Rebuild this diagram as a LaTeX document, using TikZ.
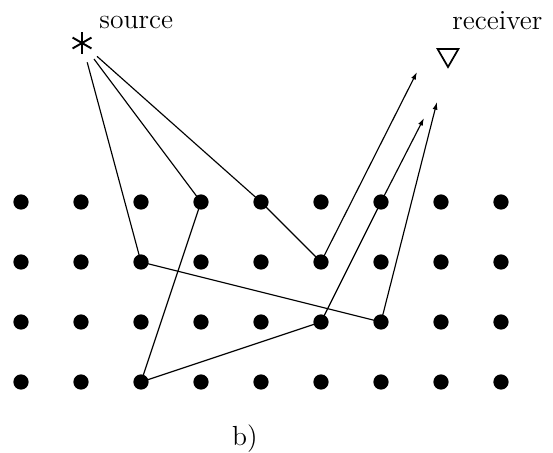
\documentclass[tikz,border=0pt]{standalone}
\usepackage{tikz}
\usetikzlibrary{arrows.meta,positioning,shapes.geometric,calc}

\begin{document}
\begin{tikzpicture}[
  x=1.1cm, y=1.1cm,
  font=\Large,
  dot/.style={circle, fill=black, inner sep=0pt, minimum size=0.28cm},
  srcmark/.style={
    circle, inner sep=0pt, minimum size=0.42cm,
    path picture={
      \foreach \a in {90,30,150}
        \draw[line width=1pt]
          ($(path picture bounding box.center)+(\a:0.2cm)$) --
          ($(path picture bounding box.center)+(\a+180:0.2cm)$);
    }
  },
  rcvmark/.style={
    draw, regular polygon, regular polygon sides=3, shape border rotate=180,
    line width=0.9pt, inner sep=0pt, minimum size=0.44cm
  },
  ray/.style={line width=0.6pt},
  rayout/.style={line width=0.6pt, -{Latex[length=4pt,width=2.6pt]}},
  lbl/.style={inner sep=0pt, anchor=base west}
]
\useasboundingbox (-0.35,-1.183) rectangle (8.867,6.367);

% Grid of scatterers
\foreach \i in {0,...,8}
  \foreach \j in {0,...,3}
    \node[dot] (d\i\j) at (\i,\j) {};

% Source and receiver
\node[srcmark] (src) at (1.017,5.65) {};
\node[lbl] (srclbl) at (1.3,5.9) {source};

\node[rcvmark] (rcv) at (7.117,5.45) {};
\node[lbl] (rcvlbl) at (7.183,5.867) {receiver};

% Free ends of the rays
\coordinate (tipA) at (6.933,4.667);
\coordinate (tipB) at (6.717,4.4);
\coordinate (tipC) at (6.6,5.167);

% Rays
\draw[ray, shorten <=0.15cm] (src) -- (d22.center) -- (d61.center);
\draw[rayout] (d61.center) -- (tipA);

\draw[ray, shorten <=0.15cm] (src) -- (d33.center) -- (d20.center)
  -- (d51.center) -- (d63.center);
\draw[rayout] (d63.center) -- (tipB);

\draw[ray, shorten <=0.15cm] (src) -- (d43.center) -- (d52.center);
\draw[rayout] (d52.center) -- (tipC);

% Caption
\node[inner sep=0pt, anchor=base] (cap) at (3.73,-1.05) {b)};

\end{tikzpicture}
\end{document}
